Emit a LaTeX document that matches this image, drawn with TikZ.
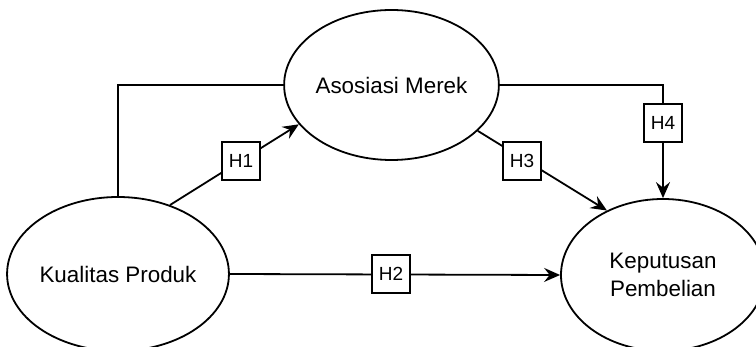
\documentclass[tikz,border=0pt]{standalone}
\usepackage{fontspec}
\setmainfont{Liberation Sans}
\usetikzlibrary{shapes.geometric,arrows.meta}
\begin{document}
\begin{tikzpicture}[x=0.5pt,y=-0.5pt,
  var/.style={draw,ellipse,inner sep=0pt,line width=0.9pt,font=\fontsize{11.2}{14}\selectfont,align=center},
  hyp/.style={draw,fill=white,rectangle,inner sep=0pt,minimum size=19pt,line width=0.9pt,font=\fontsize{9.5}{11}\selectfont},
  conn/.style={line width=0.9pt},
  arr/.style={conn,-{Stealth[length=8pt,width=7pt,inset=2.8pt]}}]
\useasboundingbox (0,0) rectangle (756,347);
\clip (0,0) rectangle (756,347);
\node[var,minimum width=103.5pt,minimum height=75pt] (am) at (391.5,85) {Asosiasi Merek};
\node[var,minimum width=104pt,minimum height=77pt] (kp) at (118,274) {Kualitas Produk};
\node[var,minimum width=102pt,minimum height=76pt] (kep) at (663,275) {Keputusan\\Pembelian};
% connectors
\draw[conn] (am.west) -| (kp.north);
\draw[arr] (kp.53) -- (am.203);
\draw[arr] (kp.east) -- (kep.west);
\draw[arr] (am.332) -- (kep.131);
\draw[arr] (am.east) -| (kep.north);
% hypothesis labels
\node[hyp] (h1) at (241,161) {H1};
\node[hyp] (h2) at (391,274) {H2};
\node[hyp] (h3) at (522,161) {H3};
\node[hyp] (h4) at (663,123) {H4};
\end{tikzpicture}
\end{document}
